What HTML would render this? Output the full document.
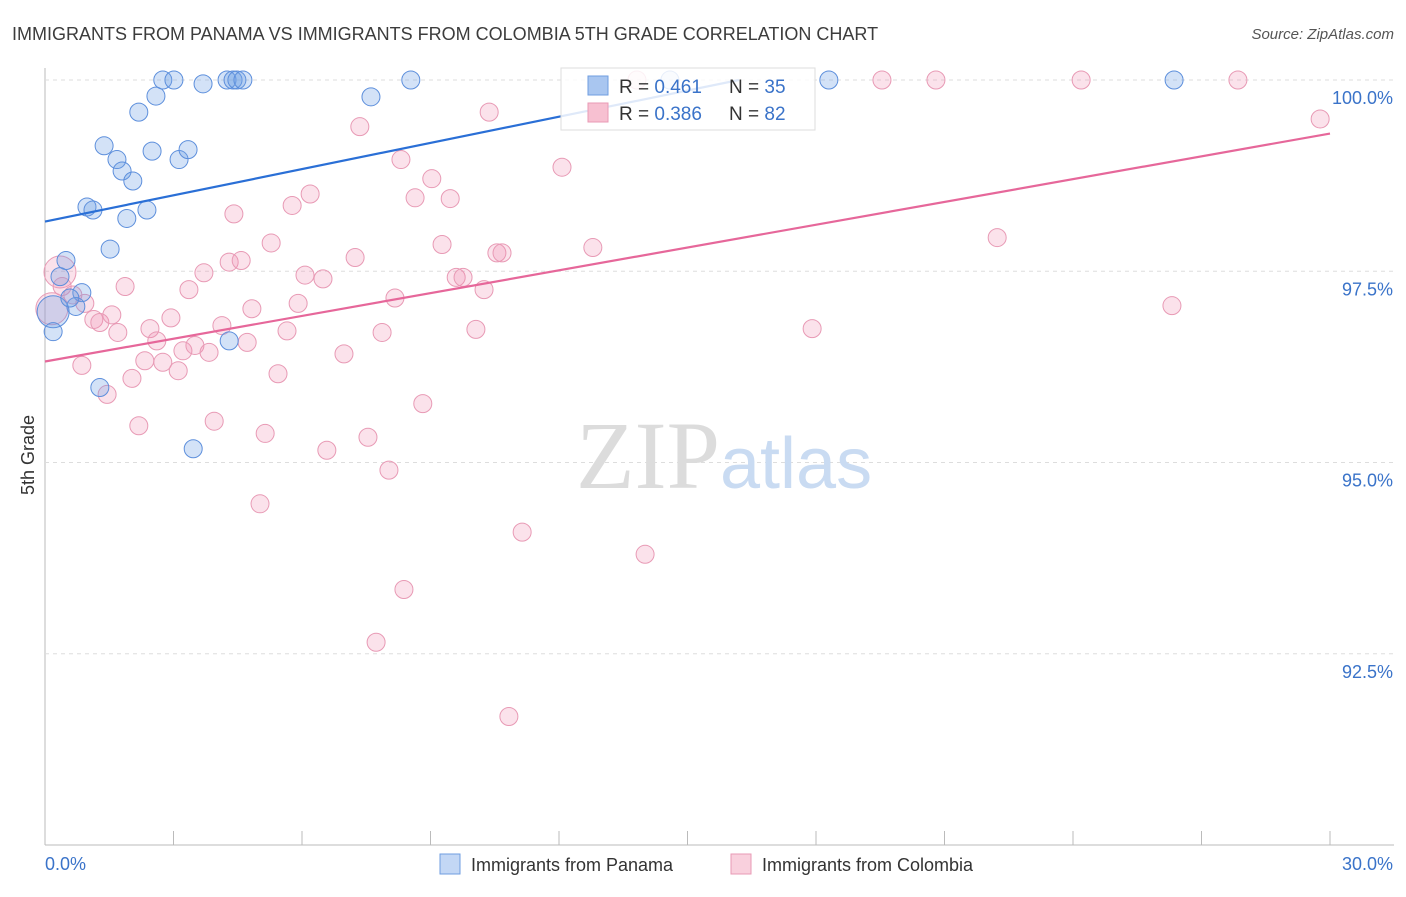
<!DOCTYPE html>
<html><head><meta charset="utf-8"><style>
body{margin:0;background:#fff;font-family:"Liberation Sans",sans-serif;}
</style></head><body>
<svg id="chart" width="1406" height="892" xmlns="http://www.w3.org/2000/svg">
<text x="12" y="40" font-size="18" fill="#3c3c3c">IMMIGRANTS FROM PANAMA VS IMMIGRANTS FROM COLOMBIA 5TH GRADE CORRELATION CHART</text>
<text x="1394" y="39" font-size="15" fill="#555" font-style="italic" text-anchor="end">Source: ZipAtlas.com</text>
<g id="grid"></g>
<text x="720" y="488" font-size="96" fill="#dcdcdc" text-anchor="end" font-family="Liberation Serif,serif">ZIP</text>
<text x="720" y="488" font-size="72" fill="#c9dbf2">atlas</text>
<text transform="translate(34,455) rotate(-90)" font-size="18" fill="#333" text-anchor="middle">5th Grade</text>
<g id="marks"></g>
<g id="lines"></g>
<g>
<rect x="561" y="68" width="254" height="62" fill="#fff" fill-opacity="0.85" stroke="#ddd"/>
<rect x="588" y="76" width="20" height="19" fill="#a9c6f0" stroke="#6f9ee0"/>
<rect x="588" y="103" width="20" height="19" fill="#f7c0d1" stroke="#e89ab5"/>
<text x="619" y="93" font-size="19" fill="#333">R = <tspan fill="#3a73c9">0.461</tspan><tspan x="729">N = </tspan><tspan fill="#3a73c9">35</tspan></text>
<text x="619" y="120" font-size="19" fill="#333">R = <tspan fill="#3a73c9">0.386</tspan><tspan x="729">N = </tspan><tspan fill="#3a73c9">82</tspan></text>
</g>
<g>
<rect x="440" y="854" width="20" height="20" fill="#c3d7f5" stroke="#6f9ee0"/>
<text x="471" y="871" font-size="18" fill="#333">Immigrants from Panama</text>
<rect x="731" y="854" width="20" height="20" fill="#f9d0dd" stroke="#e89ab5"/>
<text x="762" y="871" font-size="18" fill="#333">Immigrants from Colombia</text>
</g>
</svg>
<script>
const yTicks=[92.5,95,97.5,100];
const yTickLabels=["92.5%","95.0%","97.5%","100.0%"];
const xTickLabels=["0.0%","30.0%"];
const panamaX=[2.75,3.01,3.69,4.25,4.39,4.48,4.62,8.54,18.30,26.36,14.59,2.59,2.19,7.61,1.38,1.68,1.80,2.05,2.50,3.13,3.34,0.98,1.12,1.91,2.38,1.52,0.49,0.35,0.86,0.72,0.19,0.19,1.28,4.30,3.46,0.58];
const panamaY=[100,100,99.95,100,100,100,100,100,100,100,100,99.79,99.58,99.78,99.14,98.96,98.81,98.68,99.07,98.96,99.09,98.34,98.30,98.19,98.30,97.79,97.64,97.43,97.22,97.04,96.97,96.71,95.98,96.59,95.18,97.15];
const panamaBig=[30];
const colX=[13.82,19.54,20.80,24.19,27.85,29.77,10.37,7.35,12.07,8.31,9.03,8.64,9.46,6.19,5.77,4.41,5.28,9.27,12.79,10.55,10.67,4.30,4.58,7.24,22.23,3.71,6.07,6.49,9.60,9.76,10.25,3.36,1.87,8.17,5.91,4.83,26.31,0.35,0.40,0.65,0.93,1.14,1.28,1.56,1.70,2.45,2.94,2.61,4.13,4.72,5.65,7.87,10.06,17.91,0.86,2.03,2.33,2.75,3.11,3.22,3.50,3.83,5.44,6.98,1.45,2.19,3.95,5.14,8.82,6.58,7.54,8.03,5.02,11.14,14.01,8.38,7.73,10.83,0.16];
const colY=[100,100,100,100,100,99.49,99.58,99.39,98.86,98.96,98.71,98.46,98.45,98.51,98.36,98.25,97.87,97.85,97.81,97.74,97.74,97.62,97.64,97.68,97.94,97.48,97.45,97.40,97.42,97.42,97.26,97.26,97.30,97.15,97.08,97.01,97.05,97.49,97.30,97.19,97.08,96.87,96.83,96.93,96.70,96.75,96.89,96.59,96.79,96.57,96.72,96.70,96.74,96.75,96.27,96.10,96.33,96.31,96.20,96.46,96.53,96.44,96.16,96.42,95.89,95.48,95.54,95.38,95.77,95.16,95.33,94.90,94.46,94.09,93.80,93.34,92.65,91.68,97.01];
const colBig=[37,78];
const panamaLine=[[0,98.15],[16.2,100]];
const colLine=[[0,96.32],[30,99.30]];
const NS="http://www.w3.org/2000/svg";
const X=v=>45+v/30*1285, Y=v=>80+(100-v)/10*765;
function mk(t,a,p){const e=document.createElementNS(NS,t);for(const k in a)e.setAttribute(k,a[k]);p.appendChild(e);return e;}
const grid=document.getElementById('grid');
let ax=mk('line',{x1:45,y1:68,x2:45,y2:845,stroke:'#bbb'},grid);


let bx=mk('line',{x1:45,y1:845,x2:1394,y2:845,stroke:'#bbb'},grid);


for(let i=0;i<=10;i++){let t=mk('line',{x1:X(i*3),y1:831,x2:X(i*3),y2:845,stroke:'#bbb'},grid);

}
yTicks.forEach((v,i)=>{let g=mk('line',{x1:45,y1:Y(v),x2:1394,y2:Y(v),stroke:'#ddd','stroke-dasharray':'4,4'},grid);


let t=mk('text',{x:1393,y:Y(v)+24,'font-size':18,fill:'#3a73c9','text-anchor':'end'},grid);t.textContent=yTickLabels[i];

});
[[0,'start',45],[1,'end',1393]].forEach(([i,a,x])=>{let t=mk('text',{x:x,y:870,'font-size':18,fill:'#3a73c9','text-anchor':a},grid);t.textContent=xTickLabels[i];

});
const marks=document.getElementById('marks');
colX.forEach((x,i)=>{let c=mk('circle',{cx:X(x),cy:Y(colY[i]),r:colBig.includes(i)?16:9,fill:'rgba(240,140,175,0.25)',stroke:'#e89ab5','stroke-width':1},marks);

});
panamaX.forEach((x,i)=>{let c=mk('circle',{cx:X(x),cy:Y(panamaY[i]),r:panamaBig.includes(i)?16:9,fill:'rgba(110,160,230,0.3)',stroke:'#5d8fdc','stroke-width':1},marks);

});
const lines=document.getElementById('lines');
let l1=mk('line',{x1:X(panamaLine[0][0]),y1:Y(panamaLine[0][1]),x2:X(panamaLine[1][0]),y2:Y(panamaLine[1][1]),stroke:'#2a6fd6','stroke-width':2.2},lines);


let l2=mk('line',{x1:X(colLine[0][0]),y1:Y(colLine[0][1]),x2:X(colLine[1][0]),y2:Y(colLine[1][1]),stroke:'#e6679a','stroke-width':2.2},lines);


</script>
</body></html>
